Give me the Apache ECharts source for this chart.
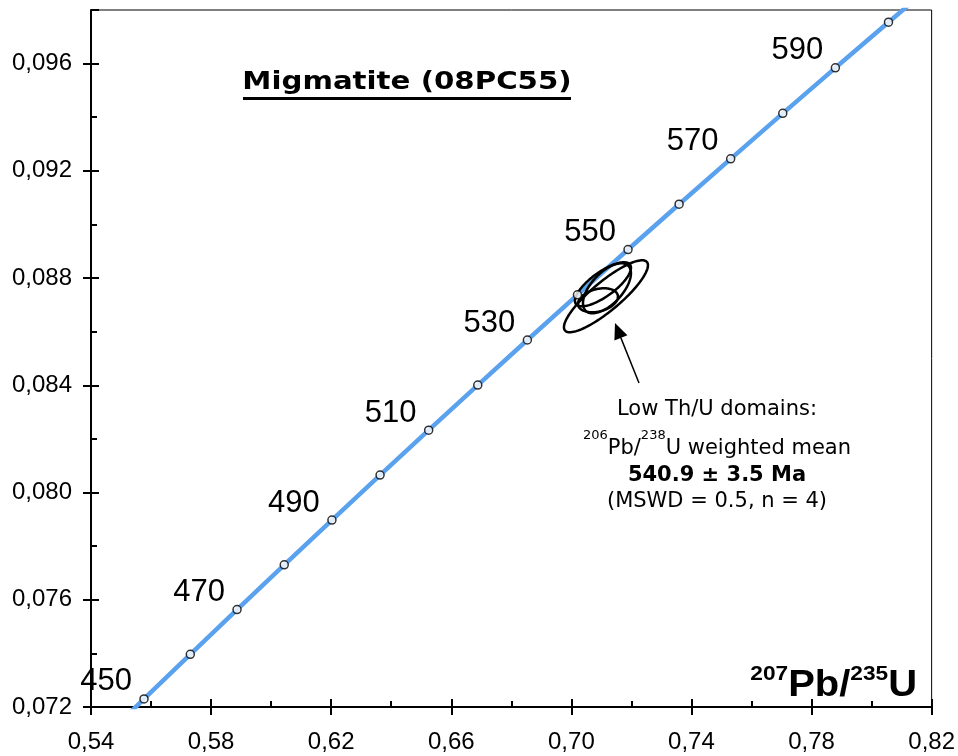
<!DOCTYPE html>
<html><head><meta charset="utf-8">
<script src="https://cdn.jsdelivr.net/npm/echarts@6/dist/echarts.min.js"></script>
<style>html,body{margin:0;padding:0;background:#fff}#c{width:958px;height:756px}</style>
</head><body><div id="c"></div>
<script>
// Concordia ticks (Ma) with their 207Pb/235U and 206Pb/238U ratios
const ages = [450,460,470,480,490,500,510,520,530,540,550,560,570,580,590,600];
const concX = [0.557657,0.573073,0.588642,0.604365,0.620244,0.636279,0.652474,0.668828,0.685345,0.702026,0.718871,0.735882,0.753063,0.770414,0.787935,0.805630];
const concY = [0.0723005,0.0739652,0.0756325,0.0773023,0.0789748,0.0806498,0.0823274,0.0840077,0.0856906,0.0873761,0.0890642,0.0907550,0.0924482,0.0941441,0.0958428,0.0975440];
// extension of the curve beyond the plotted window (440 and 610 Ma)
const extStart = [0.542392, 0.0706329];
const extEnd = [0.823502, 0.0992479];
const labeledAges = [450,470,490,510,530,550,570,590];

// Error ellipses: centre, half-extents, correlation
const ellCx = [0.71152, 0.71052, 0.711857, 0.70886];
const ellCy = [0.087322, 0.087769, 0.087620, 0.087172];
const ellSx = [0.01399, 0.00933, 0.00799, 0.00666];
const ellSy = [0.001342, 0.000820, 0.000932, 0.000447];
const ellRho = [0.86, 0.75, 0.60, 0.30];

const xMin = 0.54, xMax = 0.82, xStep = 0.04;
const yMin = 0.072, yMax = 0.098, yStep = 0.004;

const chart = echarts.init(document.getElementById('c'));
const lineData = [extStart].concat(concX.map((x,i)=>[x, concY[i]])).concat([extEnd]);
const tickData = ages.map((a,i)=>({value:[concX[i], concY[i]], age:a,
  label:{show: labeledAges.indexOf(a) >= 0}}));
const ellData = ellCx.map((c,i)=>[c, ellCy[i], ellSx[i], ellSy[i], ellRho[i]]);

function renderEllipse(params, api){
  const cx = api.value(0), cy = api.value(1), sx = api.value(2), sy = api.value(3), r = api.value(4);
  const pts = [];
  const n = 120;
  for (let k=0;k<n;k++){
    const t = k/n*2*Math.PI;
    pts.push(api.coord([cx + sx*Math.cos(t), cy + sy*(r*Math.cos(t) + Math.sqrt(1-r*r)*Math.sin(t))]));
  }
  return {type:'polygon', shape:{points:pts}, style:{fill:'none', stroke:'#000', lineWidth:2.5}};
}

const FONT = 'Liberation Sans, Arial, sans-serif';
const VFONT = 'DejaVu Sans, Verdana, sans-serif';

chart.setOption({
  animation:false,
  backgroundColor:'#fff',
  grid:{left:91, right:26, top:10, bottom:49, show:true, borderColor:'#000', borderWidth:1},
  xAxis:[{
    type:'value', min:xMin, max:xMax, interval:xStep, position:'bottom',
    axisLine:{show:true, lineStyle:{color:'#000', width:2}},
    axisTick:{show:true, inside:false, length:8, lineStyle:{color:'#000', width:2}},
    axisLabel:{fontFamily:FONT, fontSize:24, color:'#000', margin:23,
      formatter:v=>v.toFixed(2).replace('.', ',')},
    splitLine:{show:false}
  },{
    type:'value', min:xMin, max:xMax, interval:xStep, position:'bottom',
    axisLine:{show:false},
    axisTick:{show:true, inside:true, length:8, lineStyle:{color:'#000', width:2}},
    minorTick:{show:true, splitNumber:2, length:6, lineStyle:{color:'#000', width:2}},
    axisLabel:{show:false}, splitLine:{show:false}
  }],
  yAxis:[{
    type:'value', min:yMin, max:yMax, interval:yStep, position:'left',
    axisLine:{show:true, lineStyle:{color:'#000', width:2}},
    axisTick:{show:true, inside:false, length:8, lineStyle:{color:'#000', width:2}},
    axisLabel:{fontFamily:FONT, fontSize:24, color:'#000', margin:19, showMaxLabel:false,
      formatter:v=>(Math.abs((v-yMin)/yStep - Math.round((v-yMin)/yStep))<1e-6) ? v.toFixed(3).replace('.', ',') : ''},
    splitLine:{show:false}
  },{
    type:'value', min:yMin, max:yMax, interval:yStep, position:'left',
    axisLine:{show:false},
    axisTick:{show:true, inside:true, length:8, lineStyle:{color:'#000', width:2}},
    minorTick:{show:true, splitNumber:2, length:6, lineStyle:{color:'#000', width:2}},
    axisLabel:{show:false}, splitLine:{show:false}
  }],
  series:[
    {type:'line', data:lineData, showSymbol:false, symbol:'none', clip:true, z:2,
      lineStyle:{color:'#5ba2ee', width:4.5}},
    {type:'custom', data:ellData, renderItem:renderEllipse, z:3, clip:true,
      encode:{x:0, y:1}},
    {type:'scatter', data:tickData, symbol:'circle', symbolSize:8, z:4,
      itemStyle:{color:'#fff', borderColor:'#000', borderWidth:1.5},
      label:{position:'inside', offset:[-38,-17], fontFamily:FONT, fontSize:31, color:'#000',
        textBorderWidth:0, opacity:1,
        formatter:p=>String(p.data.age)}}
  ],
  graphic:[
    {type:'text', x:407, y:82, z:10, scaleX:1.17, originX:0, originY:0,
      style:{text:'Migmatite (08PC55)', fontFamily:VFONT, fontWeight:'bold', fontSize:25,
        fill:'#000', textAlign:'center', textVerticalAlign:'middle'}},
    {type:'rect', shape:{x:243, y:97, width:328, height:3}, style:{fill:'#000'}, z:10},
    {type:'line', shape:{x1:639, y1:383, x2:620.9, y2:337.9}, style:{stroke:'#000', lineWidth:1.5}, z:10},
    {type:'polygon', shape:{points:[[615,323],[627.4,335.3],[614.4,340.5]]}, style:{fill:'#000'}, z:10},
    {type:'text', x:717, y:410, z:10,
      style:{text:'Low Th/U domains:', fontFamily:VFONT, fontSize:21, fill:'#000', textAlign:'center', textVerticalAlign:'middle'}},
    {type:'text', x:717, y:444, z:10,
      style:{text:'{s|206}{n|Pb/}{s|238}{n|U weighted mean}', textAlign:'center', textVerticalAlign:'middle',
        rich:{n:{fontFamily:VFONT, fontSize:21, fill:'#000', color:'#000', lineHeight:30, verticalAlign:'bottom'},
              s:{fontFamily:VFONT, fontSize:13, fill:'#000', color:'#000', lineHeight:14, verticalAlign:'top'}}}},
    {type:'text', x:717, y:476, z:10,
      style:{text:'540.9 ± 3.5 Ma', fontFamily:VFONT, fontWeight:'bold', fontSize:21, fill:'#000', textAlign:'center', textVerticalAlign:'middle'}},
    {type:'text', x:717, y:502, z:10,
      style:{text:'(MSWD = 0.5, n = 4)', fontFamily:VFONT, fontSize:21, fill:'#000', textAlign:'center', textVerticalAlign:'middle'}},
    {type:'text', x:917, y:684, z:10, scaleX:1.08, originX:0, originY:0,
      style:{text:'{s|207}{m|Pb/}{s|235}{m|U}', textAlign:'right', textVerticalAlign:'middle',
        rich:{m:{fontFamily:FONT, fontWeight:'bold', fontSize:37, fill:'#000', color:'#000', lineHeight:40, verticalAlign:'bottom'},
              s:{fontFamily:FONT, fontWeight:'bold', fontSize:21, fill:'#000', color:'#000', lineHeight:16, verticalAlign:'top'}}}}
  ]
});
</script>
</body></html>
